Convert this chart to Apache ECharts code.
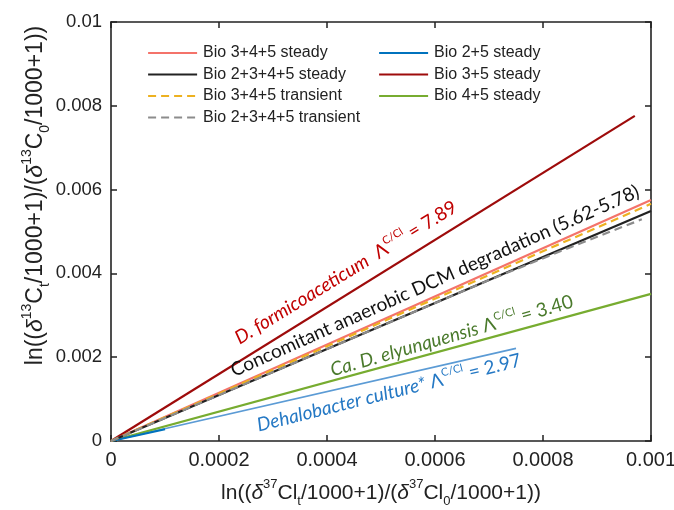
<!DOCTYPE html>
<html>
<head>
<meta charset="utf-8">
<script src="https://cdn.jsdelivr.net/npm/echarts@6/dist/echarts.min.js"></script>
<style>html,body{margin:0;padding:0;background:#fff;}#c{width:674px;height:510px;}</style>
</head>
<body>
<div id="c"></div>
<script>
// ---- data ----
const seriesNames = ['Bio 3+4+5 steady','Bio 2+3+4+5 steady','Bio 3+4+5 transient','Bio 2+3+4+5 transient','Bio 2+5 steady','Bio 3+5 steady','Bio 4+5 steady'];
const bio345Steady = [[0,0],[0.001,0.00575]];
const bio2345Steady = [[0,0],[0.001,0.00549]];
const bio345Transient = [[0,0],[0.001,0.00566]];
const bio2345Transient = [[0,0],[0.0007,0.00384],[0.00085,0.00462],[0.000983,0.00529]];
const bio25Steady = [[0,0],[0.0001,0.00028]];
const bio35Steady = [[0,0],[0.00097,0.00776]];
const bio45Steady = [[0,0],[0.001,0.00351]];
const dehalobacterRef = [[0,0],[0.00075,0.00221]];
const xRange = [0, 0.001], xStep = 0.0002;
const yRange = [0, 0.01], yStep = 0.002;

const AX = 'Liberation Sans';
const AN = 'Lato';
const chart = echarts.init(document.getElementById('c'), null, {renderer:'canvas'});

function nameRich(fs, sfs, lh){
  return {
    n:{fontFamily:AX,fontSize:fs,lineHeight:lh,color:'#222'},
    d:{fontFamily:AX,fontSize:fs,lineHeight:lh,fontStyle:'italic',color:'#222'},
    sup:{fontFamily:AX,fontSize:sfs,lineHeight:sfs+1,verticalAlign:'top',color:'#222'},
    sub:{fontFamily:AX,fontSize:sfs,lineHeight:sfs+1,verticalAlign:'bottom',color:'#222'}
  };
}

function line(name, data, color, width, dash, z){
  return {name, type:'line', data, showSymbol:false, symbol:'none', z:z||2,
    lineStyle:{color, width, type:dash||'solid'}, itemStyle:{color}, emphasis:{disabled:true}, silent:true};
}

const baseAxis = {
  axisLine:{show:true, onZero:false, lineStyle:{color:'#222', width:1.6}},
  axisTick:{show:true, inside:true, length:6, lineStyle:{color:'#222', width:1.5}},
  splitLine:{show:false}
};
const legendCommon = {top:40, orient:'vertical', itemWidth:49, itemHeight:14, itemGap:5.5,
  textStyle:{fontFamily:AX, fontSize:16, color:'#222', padding:[0,0,0,1]}, selectedMode:false,
  itemStyle:{opacity:0}, lineStyle:{width:2.2}};

chart.setOption({
  animation:false,
  backgroundColor:'#fff',
  grid:{left:111, right:23, top:22, bottom:69, containLabel:false, outerBoundsMode:'none'},
  legend:[
    Object.assign({left:142, data:seriesNames.slice(0,4)}, legendCommon),
    Object.assign({left:373, data:seriesNames.slice(4)}, legendCommon)
  ],
  xAxis:[
    Object.assign({type:'value', min:xRange[0], max:xRange[1], interval:xStep, position:'bottom',
      name:'{n|ln((}{d|δ}{sup|37}{n|Cl}{sub|t}{n|/1000+1)/(}{d|δ}{sup|37}{n|Cl}{sub|0}{n|/1000+1))}',
      nameLocation:'middle', nameGap:37, nameMoveOverlap:false, nameTextStyle:{rich:nameRich(21,13,30)},
      axisLabel:{fontFamily:AX, fontSize:20, color:'#222', margin:9}}, baseAxis),
    Object.assign({type:'value', min:xRange[0], max:xRange[1], interval:xStep, position:'top',
      axisLabel:{show:false}}, baseAxis)
  ],
  yAxis:[
    Object.assign({type:'value', min:yRange[0], max:yRange[1], interval:yStep, position:'left',
      name:'{n|ln((}{d|δ}{sup|13}{n|C}{sub|t}{n|/1000+1)/(}{d|δ}{sup|13}{n|C}{sub|0}{n|/1000+1))}',
      nameLocation:'middle', nameGap:59, nameMoveOverlap:false, nameRotate:90,
      nameTextStyle:{rich:nameRich(23,14,32), padding:[0,0,0,72]},
      axisLabel:{fontFamily:AX, fontSize:18.5, color:'#222', margin:9}}, baseAxis),
    Object.assign({type:'value', min:yRange[0], max:yRange[1], interval:yStep, position:'right',
      axisLabel:{show:false}}, baseAxis)
  ],
  series:[
    line('Dehalobacter ref', dehalobacterRef, '#5B9BD5', 1.6, 'solid', 1),
    line(seriesNames[6], bio45Steady, '#77AC30', 2.2),
    line(seriesNames[5], bio35Steady, '#9E0B0B', 2.2),
    line(seriesNames[4], bio25Steady, '#0072BD', 2.2),
    line(seriesNames[0], bio345Steady, '#F4736A', 2.2),
    line(seriesNames[1], bio2345Steady, '#222222', 2.2),
    line(seriesNames[2], bio345Transient, '#EDB120', 2.2, [8,5], 3),
    line(seriesNames[3], bio2345Transient, '#8C8C8C', 2.2, [8,5], 3)
  ]
});

// ---- annotations placed in data coordinates ----
function rich(color){
  return {
    i:{fontFamily:AN, fontSize:19, fontStyle:'italic', fill:color, lineHeight:24},
    n:{fontFamily:AN, fontSize:19, fill:color, lineHeight:24},
    sup:{fontFamily:AN, fontSize:11, fill:color, lineHeight:12, verticalAlign:'top'}
  };
}
const annotations = [
  {at:[0.000435,0.00402], angle:31.5, color:'#C00000', text:'{i|D. formicoaceticum}{n|  Λ}{sup|C/Cl}{n| = 7.89}'},
  {at:[0.000600,0.00382], angle:24, color:'#111111', text:'{n|Concomitant anaerobic DCM degradation (5.62-5.78)}'},
  {at:[0.000631,0.00251], angle:16, color:'#4A7A2C', text:'{i|Ca. D. elyunquensis}{n| Λ}{sup|C/Cl}{n| = 3.40}'},
  {at:[0.000515,0.00115], angle:14, color:'#2478C4', text:'{i|Dehalobacter culture*}{n| Λ}{sup|C/Cl}{n| = 2.97}'}
];
const graphics = annotations.map(a => {
  const p = chart.convertToPixel({gridIndex:0}, a.at);
  return {type:'text', x:p[0], y:p[1], rotation:a.angle*Math.PI/180, z:10, silent:true,
    style:{text:a.text, rich:rich(a.color), fill:a.color, fontFamily:AN, fontSize:19, align:'center', verticalAlign:'middle'}};
});
chart.setOption({graphic:graphics});
</script>
</body>
</html>
